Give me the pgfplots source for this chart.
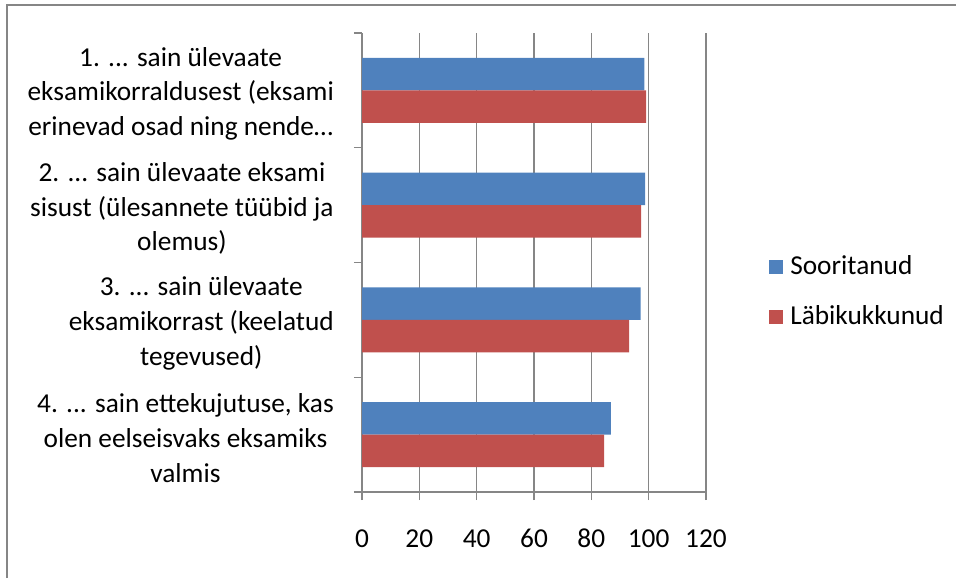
\documentclass[border=0pt]{standalone}
\usepackage{fontspec}
\setmainfont{Carlito}
\usepackage{pgfplots}
\pgfplotsset{compat=1.18}
\definecolor{sblue}{RGB}{79,129,189}
\definecolor{lred}{RGB}{192,80,77}
\definecolor{axgray}{RGB}{134,134,134}
\protected\def\tdots{...}
\begin{document}
\begin{tikzpicture}
\useasboundingbox (0,0) rectangle (717pt,433.5pt);
\draw[axgray, line width=1.5pt] (5.6pt,0) -- (5.6pt,430.1pt) -- (717pt,430.1pt);
\begin{axis}[
  at={(271.5pt,64.5pt)}, anchor=south west,
  scale only axis, width=258pt, height=344.25pt,
  bar width=24.45pt,
  xmin=0, xmax=120, xtick={0,20,40,60,80,100,120},
  ymin=-0.5, ymax=3.5,
  ytick={-0.5,0.5,1.5,2.5,3.5}, yticklabels={},
  extra y ticks={3,2,1,0},
  extra y tick labels={{1. \tdots{} sain ülevaate\\eksamikorraldusest (eksami\\erinevad osad ning nende…},{2. \tdots{} sain ülevaate eksami\\sisust (ülesannete tüübid ja\\olemus)},{3. \tdots{} sain ülevaate\\eksamikorrast (keelatud\\tegevused)},{4. \tdots{} sain ettekujutuse, kas\\olen eelseisvaks eksamiks\\valmis}},
  extra y tick style={tick style={draw=none}},
  axis x line=bottom, axis y line=left,
  axis line style={axgray, line width=1.1pt, -},
  xmajorgrids, grid style={axgray, line width=1.1pt},
  tick style={axgray, line width=1.1pt},
  tick align=outside, major tick length=6pt,
  /pgf/number format/assume math mode=true,
  tick label style={font=\fontsize{20.5}{26}\selectfont, text=black},
  xticklabel style={text height=13pt, text depth=0pt, inner sep=0pt, yshift=-22.5pt},
  yticklabel style={align=center, inner sep=0pt, xshift=-15pt, yshift=-2.5pt},
  legend style={at={(1,0.5)}, anchor=west, xshift=47.25pt, yshift=-22.4pt,
    draw=none, fill=none, inner sep=0pt, row sep=19.5pt, column sep=5.25pt,
    font=\fontsize{20.5}{24}\selectfont,
    nodes={inner sep=0pt, text height=14pt, text depth=4pt, anchor=base west}},
  legend cell align=left,
  legend image code/.code={\fill[#1] (0pt,0pt) rectangle (10.5pt,10.5pt);},
]
\addplot[xbar, bar shift=12.225pt, fill=sblue, draw=none] coordinates {(98.5,3) (98.8,2) (97.2,1) (86.8,0)};
\addplot[xbar, bar shift=-12.225pt, fill=lred, draw=none] coordinates {(99.1,3) (97.4,2) (93.2,1) (84.5,0)};
\legend{Sooritanud, Läbikukkunud}
\end{axis}
\end{tikzpicture}
\end{document}
